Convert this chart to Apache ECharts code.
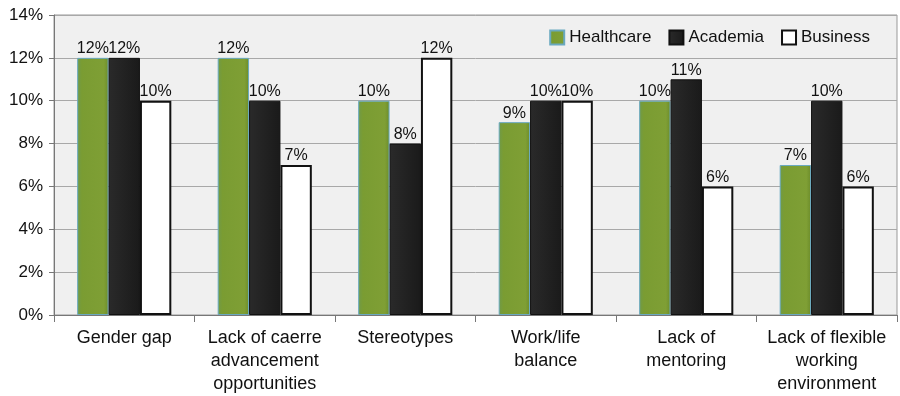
<!DOCTYPE html>
<html><head><meta charset="utf-8">
<script src="https://cdn.jsdelivr.net/npm/echarts@6/dist/echarts.min.js"></script>
<style>html,body{margin:0;padding:0;background:#fff}#c{width:900px;height:396px}</style>
</head><body><div id="c"></div>
<script>
const categories = ["Gender gap","Lack of caerre\nadvancement\nopportunities","Stereotypes","Work/life\nbalance","Lack of\nmentoring","Lack of flexible\nworking\nenvironment"];
const healthcare = [12,12,10,9,10,7];
const academia = [12,10,8,10,11,10];
const business = [10,7,12,10,6,6];
const seriesNames = ["Healthcare","Academia","Business"];

const chart = echarts.init(document.getElementById('c'));
const font = 'Liberation Sans, Arial, sans-serif';
const lbl = {show:true, position:'top', formatter:'{c}%', color:'#111', fontSize:16, fontFamily:font, distance:1};
const green = new echarts.graphic.LinearGradient(0,0,1,0,[{offset:0,color:'#6f9a4a'},{offset:0.15,color:'#7a9c32'},{offset:0.85,color:'#7f9f35'},{offset:1,color:'#6c8c2a'}]);
const dark = new echarts.graphic.LinearGradient(0,0,1,0,[{offset:0,color:'#2a2a2a'},{offset:0.5,color:'#222'},{offset:1,color:'#1a1a1a'}]);
chart.setOption({
  animation:false,
  backgroundColor:'#fff',
  grid:{left:54,right:3,top:15,bottom:76,show:true,backgroundColor:'#f0f0f0',borderColor:'#999',borderWidth:1},
  legend:{right:25,top:24,itemWidth:14,itemHeight:14,itemGap:17,icon:'rect',textStyle:{fontSize:17,fontFamily:font,color:'#111'},
    data:seriesNames},
  xAxis:{type:'category',data:categories,
    axisLine:{lineStyle:{color:'#777'}},
    axisTick:{show:true,length:7,lineStyle:{color:'#777'}},
    axisLabel:{color:'#111',fontSize:18,fontFamily:font,lineHeight:23,margin:12,interval:0}},
  yAxis:{type:'value',min:0,max:14,interval:2,
    axisLine:{show:true,lineStyle:{color:'#777'}},
    axisTick:{show:true,length:5,lineStyle:{color:'#777'}},
    splitLine:{lineStyle:{color:'#a8a8a8'}},
    axisLabel:{formatter:'{value}%',color:'#111',fontSize:17,fontFamily:font,margin:11}},
  series:[
    {name:seriesNames[0],type:'bar',data:healthcare,barGap:'0%',barCategoryGap:'33%',
      itemStyle:{color:green,borderColor:'#6aa9c0',borderWidth:1},label:lbl},
    {name:seriesNames[1],type:'bar',data:academia,
      itemStyle:{color:dark,borderColor:'#111',borderWidth:1},label:lbl},
    {name:seriesNames[2],type:'bar',data:business,
      itemStyle:{color:'#fff',borderColor:'#111',borderWidth:2},label:lbl}
  ]
});
</script></body></html>
